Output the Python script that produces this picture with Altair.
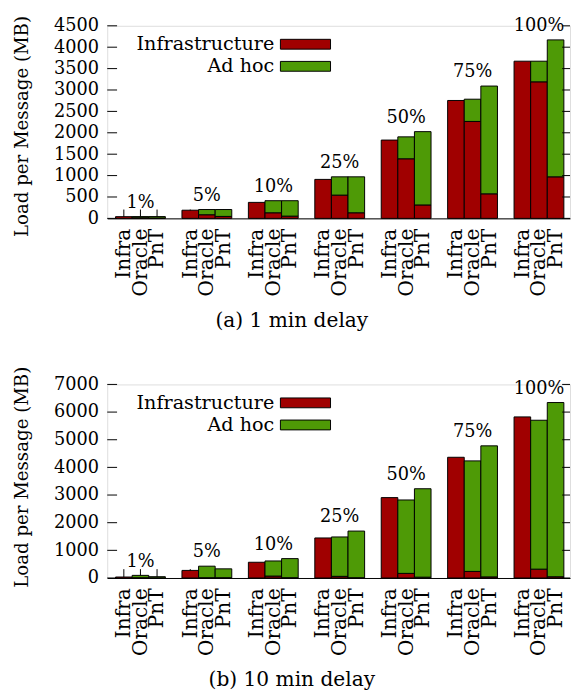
import altair as alt
import pandas as pd

groups = ["1%", "5%", "10%", "25%", "50%", "75%", "100%"]
methods = ["Infra", "Oracle", "PnT"]
parts = ["Infrastructure", "Ad hoc"]

# (a) 1 min delay -- load per message (MB) carried by infrastructure / ad hoc
a_infra_infra = [40, 191, 374, 911, 1830, 2755, 3673]
a_infra_adhoc = [0, 0, 0, 0, 0, 0, 0]
a_oracle_infra = [15, 85, 131, 544, 1393, 2265, 3191]
a_oracle_adhoc = [27, 122, 282, 427, 512, 520, 482]
a_pnt_infra = [10, 46, 53, 131, 314, 574, 971]
a_pnt_adhoc = [32, 161, 360, 840, 1713, 2518, 3200]

# (b) 10 min delay
b_infra_infra = [35, 274, 569, 1448, 2907, 4366, 5826]
b_infra_adhoc = [0, 0, 0, 0, 0, 0, 0]
b_oracle_infra = [10, 10, 70, 60, 167, 238, 320]
b_oracle_adhoc = [85, 417, 546, 1424, 2655, 3997, 5385]
b_pnt_infra = [5, 10, 10, 10, 30, 40, 45]
b_pnt_adhoc = [42, 321, 691, 1687, 3198, 4739, 6300]

RED = "#a00000"
GREEN = "#4e9a06"
FONT = "DejaVu Serif"
W = 471
XMAX = 27.87


def panel(infra_series, adhoc_series, ymax, ystep, height, caption, legend_y,
          title_y, caption_offset):
    rows = []
    for mi, m in enumerate(methods):
        for gi, g in enumerate(groups):
            pos = 1 + 4 * gi + mi
            inf = infra_series[mi][gi]
            ad = adhoc_series[mi][gi]
            rows.append({"group": g, "method": m, "pos": pos, "lo": pos - 0.5,
                         "hi": pos + 0.5, "part": "Infrastructure", "y0": 0, "y1": inf})
            if ad > 0:
                rows.append({"group": g, "method": m, "pos": pos, "lo": pos - 0.5,
                             "hi": pos + 0.5, "part": "Ad hoc", "y0": inf, "y1": inf + ad})
    bars_df = pd.DataFrame(rows)
    label_df = pd.DataFrame({
        "group": groups,
        "pos": [2 + 4 * gi for gi in range(len(groups))],
        "top": [max(infra_series[mi][gi] + adhoc_series[mi][gi] for mi in range(3))
                for gi in range(len(groups))],
    })
    positions = [1 + 4 * gi + mi for gi in range(len(groups)) for mi in range(3)]
    pos_df = pd.DataFrame({"pos": positions})
    tick_vals = list(range(0, ymax + 1, ystep))
    tick_df = pd.DataFrame({"v": tick_vals})

    xscale = alt.Scale(domain=[0, XMAX], nice=False, zero=False)
    yscale = alt.Scale(domain=[0, ymax], nice=False)

    xaxis = alt.Axis(values=positions,
                     labelExpr="['Infra','Oracle','PnT'][(datum.value - 1) % 4]",
                     labelAngle=-90, labelAlign="right", labelBaseline="middle",
                     labelPadding=10, labelFontSize=20.5, labelColor="black",
                     labelFont=FONT, ticks=False, domain=True, domainColor="black",
                     domainWidth=1, grid=False, title=None, labelOverlap=False,
                     labelFlush=False)
    yaxis = alt.Axis(values=tick_vals, format="d", ticks=False, domain=False, grid=False,
                     labelPadding=9, labelFontSize=18, labelColor="black",
                     labelFont=FONT, title="Load per Message (MB)", titleFontSize=18.5,
                     titleFont=FONT, titleFontWeight="normal", titleColor="black",
                     titlePadding=22, titleY=title_y, labelFlush=False,
                     labelOverlap=False)

    legend = alt.Legend(orient="none", legendX=192, legendY=legend_y, title=None,
                        symbolType="M-5.1,-1H5.1V1H-5.1Z", symbolSize=100,
                        symbolStrokeColor="black", symbolStrokeWidth=1,
                        labelAlign="right", labelOffset={"expr": "-41.5"},
                        labelFontSize=19.5, labelFont=FONT, labelColor="black",
                        padding=0, direction="vertical", rowPadding=1.5,
                        symbolOpacity=1)

    xticks = alt.Chart(pos_df).mark_rule(color="black", strokeWidth=1).encode(
        x=alt.X("pos:Q", scale=xscale, axis=xaxis),
        y=alt.value(height), y2=alt.value(height - 9))

    bars = alt.Chart(bars_df).mark_bar(stroke="black", strokeWidth=1, opacity=1).encode(
        x=alt.X("lo:Q", scale=xscale, axis=xaxis),
        x2="hi:Q",
        y=alt.Y("y1:Q", scale=yscale, axis=yaxis),
        y2="y0:Q",
        color=alt.Color("part:N", scale=alt.Scale(domain=parts, range=[RED, GREEN]),
                        legend=legend),
    )

    left_ticks = alt.Chart(tick_df).mark_rule(color="black", strokeWidth=1).encode(
        y=alt.Y("v:Q", scale=yscale, axis=yaxis),
        x=alt.value(0), x2=alt.value(10))
    right_ticks = alt.Chart(tick_df).mark_rule(color="black", strokeWidth=1).encode(
        y=alt.Y("v:Q", scale=yscale, axis=yaxis),
        x=alt.value(W - 8), x2=alt.value(W))

    labels = alt.Chart(label_df).mark_text(dy=-14, baseline="middle", align="center",
                                           fontSize=18, font=FONT, color="black").encode(
        x=alt.X("pos:Q", scale=xscale, axis=xaxis),
        y=alt.Y("top:Q", scale=yscale, axis=yaxis),
        text="group:N")

    return alt.layer(xticks, bars, left_ticks, right_ticks, labels).properties(
        width=W, height=height,
        title=alt.TitleParams(caption, orient="bottom", anchor="middle", frame="bounds",
                              fontSize=20.5, fontWeight="normal", color="black",
                              font=FONT, offset=caption_offset))


top = panel([a_infra_infra, a_oracle_infra, a_pnt_infra],
            [a_infra_adhoc, a_oracle_adhoc, a_pnt_adhoc],
            4500, 500, 196, "(a) 1 min delay", 9, 102, 16)
bottom = panel([b_infra_infra, b_oracle_infra, b_pnt_infra],
               [b_infra_adhoc, b_oracle_adhoc, b_pnt_adhoc],
               7000, 1000, 197, "(b) 10 min delay", 9, 94, 15)

chart = alt.vconcat(top, bottom, spacing=33).resolve_scale(
    color="independent", x="independent", y="independent"
).properties(
    padding={"left": 4, "top": 0, "right": 0, "bottom": 0}
).configure_view(stroke=None).configure(font=FONT)

chart.save("out.html", embed_options={"renderer": "svg", "actions": False})
